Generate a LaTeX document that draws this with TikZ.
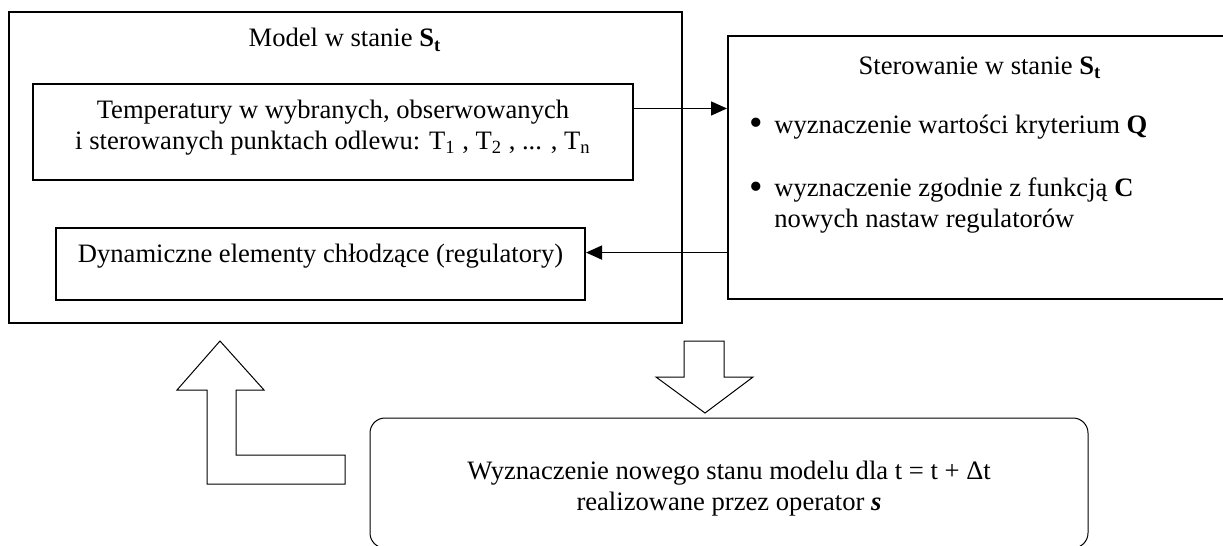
\documentclass[tikz,border=0pt]{standalone}
\usepackage{fontspec}
\usepackage{graphicx}
\setmainfont{Liberation Serif}
\usetikzlibrary{calc, arrows.meta}

\newcommand{\bul}{\makebox[12.5pt][l]{\raisebox{-1.1pt}{\scalebox{1.45}{\textbullet}}}}

\begin{document}
\begin{tikzpicture}[x=0.5pt, y=-0.5pt,
    every node/.style={font=\fontsize{13.3}{15.5}\selectfont},
    frame/.style={draw, line width=1pt, inner sep=0pt},
    link/.style={-{Triangle[length=8pt,width=7pt]}, line width=0.75pt},
    hollow/.style={draw, line width=0.5pt, fill=white}]
      \useasboundingbox (0,0) rectangle (1223,546);
      \clip (0,0) rectangle (1223,546);

      \node[frame, minimum width=336.5pt, minimum height=155.5pt] (model) at (345.5,167.5) {};
      \node (modeltitle) at (345,40) {Model w stanie \textbf{S\textsubscript{t}}};

      \node[frame, minimum width=300pt, minimum height=48pt] (temp) at (333,132) {};
      \node[align=center] (templabel) at (333,127.5) {Temperatury w wybranych, obserwowanych\\
        i sterowanych punktach odlewu: T\textsubscript{1} , T\textsubscript{2} , ... , T\textsubscript{n}};

      \node[frame, minimum width=264.5pt, minimum height=36pt] (dyn) at (320.5,264) {};
      \node (dynlabel) at (320.5,256) {Dynamiczne elementy chłodzące (regulatory)};

      \node[frame, minimum width=252pt, minimum height=131.5pt] (ster) at (980,167.5) {};
      \node (stertitle) at (980,68) {Sterowanie w stanie \textbf{S\textsubscript{t}}};
      \node[anchor=west, inner sep=0pt] (item1) at (749,127) {\bul wyznaczenie wartości kryterium \textbf{Q}};
      \node[anchor=west, inner sep=0pt, align=left] (item2) at (749,206) {\bul wyznaczenie zgodnie z funkcją \textbf{C}\\
        \phantom{\bul}nowych nastaw regulatorów};

      \coordinate (a1) at ($(temp.north east)!0.26!(temp.south east)$);
      \coordinate (a2) at ($(ster.north west)!0.821!(ster.south west)$);
      \draw[link] (a1) -- (a1 -| ster.west);
      \draw[link] (a2) -- (a2 -| dyn.east);

      \draw[hollow] (220,341) -- (264,390) -- (236,390) -- (236,455) -- (345,455)
        -- (345,484) -- (207,484) -- (207,390) -- (177,390) -- cycle;
      \draw[hollow] (684,341) -- (724,341) -- (724,377) -- (753,377) -- (705,413)
        -- (656,377) -- (684,377) -- cycle;

      \node[draw, line width=0.5pt, rounded corners=7.5pt, minimum width=359pt, minimum height=65pt] (newbox) at (729,483) {};
      \node[align=center] (newlabel) at (729,489) {Wyznaczenie nowego stanu modelu dla t = t + Δt\\
        realizowane przez operator \textbf{\textit{s}}};
\end{tikzpicture}
\end{document}
